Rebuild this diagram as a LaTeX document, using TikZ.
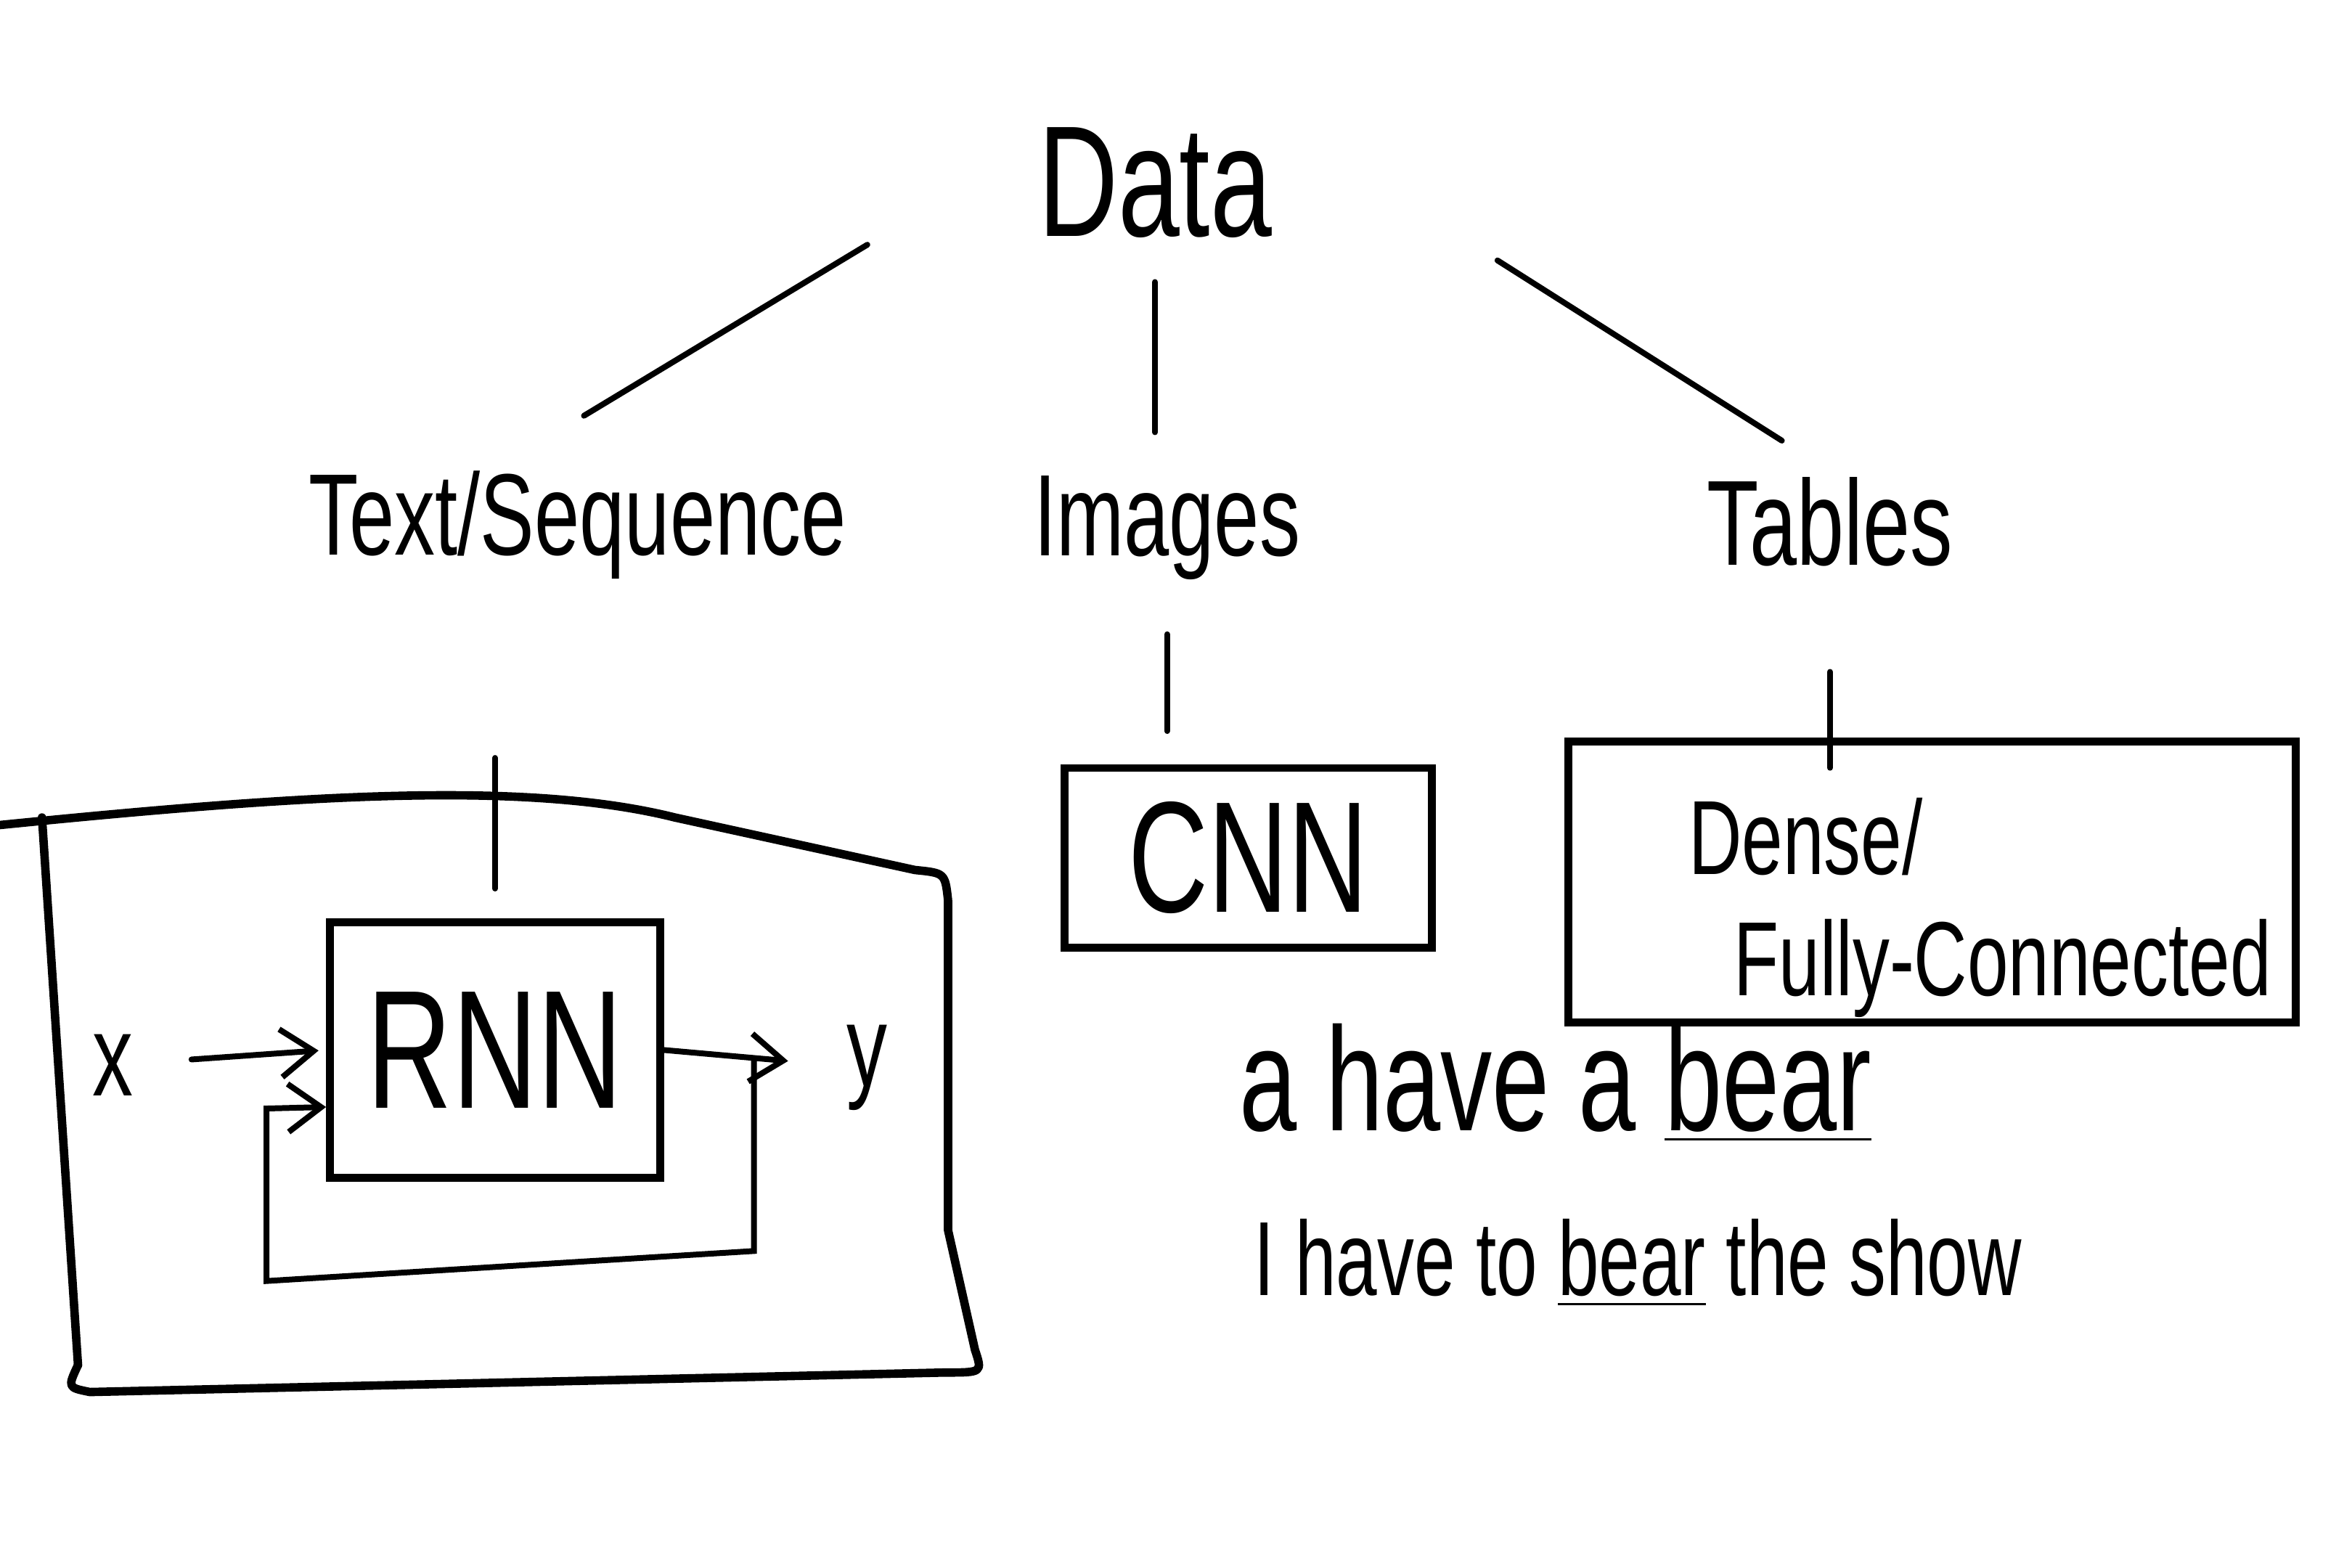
\documentclass[tikz,border=0pt]{standalone}
\usepackage{fontspec}
\setmainfont[FakeStretch=0.7]{Liberation Sans}
\usetikzlibrary{arrows.meta,calc}

\tikzset{
  lbl/.style={inner sep=1pt, font=\fontsize{22}{24}\selectfont},
  link/.style={line width=1.1pt, line cap=round},
  box/.style={draw, line width=1.5pt, inner sep=2pt},
  frame/.style={line width=1.6pt, line join=round, line cap=round},
  >={Straight Barb[length=2.2mm, width=3.2mm]}
}

\begin{document}
\begin{tikzpicture}
  \useasboundingbox (0,0) rectangle (15.68,-10.45);

  % kinds of data
  \node[lbl, font=\fontsize{30}{32}\selectfont] (data) at (7.7,-1.22) {Data};
  \node[lbl] (text) at (3.85,-3.5) {Text/Sequence};
  \node[lbl] (images) at (7.78,-3.52) {Images};
  \node[lbl, font=\fontsize{23}{25}\selectfont] (tables) at (12.2,-3.48) {Tables};

  \draw[link, shorten <=1.28cm, shorten >=0.05cm] ([yshift=0.25cm]data.west) -- ([yshift=0.3cm]text.north);
  \draw[link, shorten <=0.25cm, shorten >=0.25cm] (data.south) -- (data.south |- images.north);
  \draw[link, shorten <=1.73cm, shorten >=0.38cm] (data.north east) -- (tables.north);

  % text/sequence: RNN with its loop
  \draw[frame] (0,-5.5) .. controls (2,-5.3) and (3.5,-5.2) .. (4.5,-5.45) -- (6.1,-5.8)
    .. controls (6.3,-5.82) .. (6.32,-6.0) -- (6.32,-8.2) -- (6.5,-9.0)
    .. controls (6.55,-9.15) .. (6.3,-9.15) -- (0.6,-9.28) .. controls (0.45,-9.25) .. (0.52,-9.1);
  \draw[frame] (0.28,-5.45) -- (0.52,-9.1);

  \node[box, minimum width=2.2cm, minimum height=1.7cm, font=\fontsize{32}{34}\selectfont] (rnn) at (3.3,-7.0) {RNN};
  \draw[link, shorten <=1.15cm, shorten >=0.2cm] (rnn.north |- text.south) -- (rnn.north);

  \node[lbl] (x) at (0.75,-7.1) {x};
  \node[lbl] (y) at (5.78,-7.12) {y};
  \coordinate (split) at ($(rnn.east)+(0.6,-0.06)$);
  \draw[link, ->, shorten <=0.35cm, shorten >=0.05cm] (x) -- (rnn.west);
  \draw[link, ->, shorten >=0.35cm] (rnn.east) -- (y);
  \draw[link, ->] (split) -- ++(0,-1.28) -- ++(-3.25,-0.2) -- ++(0,1.15) -- ([yshift=-0.38cm]rnn.west);

  % images
  \node[box, minimum width=2.45cm, minimum height=1.2cm, font=\fontsize{30}{32}\selectfont] (cnn) at (8.32,-5.72) {CNN};
  \draw[link, shorten <=0.32cm, shorten >=0.22cm] (images.south) -- (images.south |- cnn.north);

  % tables
  \node[box, minimum width=4.85cm, minimum height=1.87cm] (dense) at (12.88,-5.88) {};
  \node[lbl, align=left, font=\fontsize{20}{23}\selectfont] (densetext) at (13.2,-6.05) {Dense/\\\hspace{0.3cm}Fully-Connected};
  \draw[link, shorten <=0.66cm, shorten >=-0.2cm] (tables.south) -- (tables.south |- dense.north);

  % two meanings of bear
  \node[lbl, font=\fontsize{28}{30}\selectfont] (sent1) at (10.37,-7.22) {a have a \underline{bear}};
  \node[lbl, font=\fontsize{20}{24}\selectfont] (sent2) at (10.92,-8.42) {I have to \underline{bear} the show};
\end{tikzpicture}
\end{document}
